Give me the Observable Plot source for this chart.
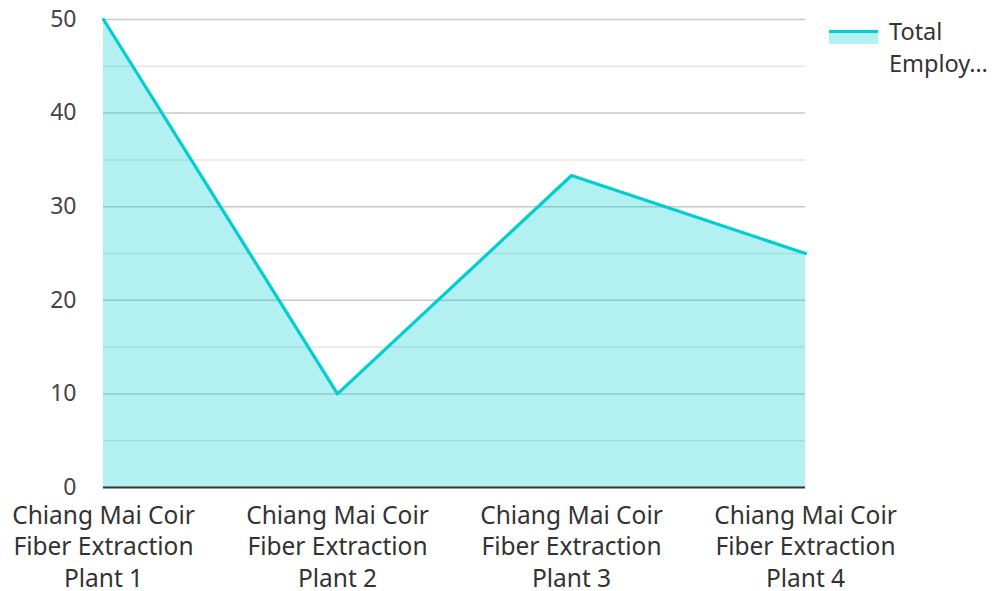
<!DOCTYPE html>
<html>
<head>
<meta charset="utf-8">
<script src="https://cdn.jsdelivr.net/npm/d3@7"></script>
<script src="https://cdn.jsdelivr.net/npm/@observablehq/plot@0.6"></script>
<style>
  html, body { margin: 0; padding: 0; background: #fff; }
  #wrap { position: relative; width: 994px; height: 591px; font-family: "Noto Sans", sans-serif; }
  #legend { position: absolute; left: 829px; top: 15px; display: flex; align-items: flex-start; }
  #legend .sw { width: 49px; height: 14px; margin-top: 15px; background: rgba(0,206,209,0.3); border-top: 3px solid #00CED1; box-sizing: border-box; }
  #legend .lab { margin-left: 11px; font-size: 23.5px; line-height: 32px; color: #333; }
</style>
</head>
<body>
<div id="wrap"></div>
<script>
const categories = [
  "Chiang Mai Coir Fiber Extraction Plant 1",
  "Chiang Mai Coir Fiber Extraction Plant 2",
  "Chiang Mai Coir Fiber Extraction Plant 3",
  "Chiang Mai Coir Fiber Extraction Plant 4"
];
const totalEmployees = [50, 10, 33.33, 25];
const tickLabelsX = [
  "Chiang Mai Coir\nFiber Extraction\nPlant 1",
  "Chiang Mai Coir\nFiber Extraction\nPlant 2",
  "Chiang Mai Coir\nFiber Extraction\nPlant 3",
  "Chiang Mai Coir\nFiber Extraction\nPlant 4"
];
const yMajor = [0, 10, 20, 30, 40, 50];
const yMinor = [5, 15, 25, 35, 45];
const seriesName = "Total Employees";

const data = categories.map((c, i) => ({cat: c, value: totalEmployees[i]}));
const labelMap = new Map(categories.map((c, i) => [c, tickLabelsX[i]]));

const chart = Plot.plot({
  width: 994,
  height: 591,
  marginLeft: 103,
  marginRight: 189,
  marginTop: 19,
  marginBottom: 104,
  style: {fontFamily: "Noto Sans, sans-serif", background: "#fff"},
  x: {type: "point", domain: categories, padding: 0, label: null},
  y: {domain: [0, 50], label: null},
  marks: [
    Plot.ruleY(yMinor, {stroke: "#e6e6e6", strokeWidth: 1.5}),
    Plot.ruleY(yMajor.filter(d => d > 0), {stroke: "#c8c8c8", strokeWidth: 1.5}),
    Plot.areaY(data, {x: "cat", y: "value", fill: "#00CED1", fillOpacity: 0.3}),
    Plot.lineY(data, {x: "cat", y: "value", stroke: "#00CED1", strokeWidth: 3.2}),
    Plot.ruleY([0], {stroke: "#333", strokeWidth: 2}),
    Plot.axisY({ticks: yMajor, tickSize: 0, tickPadding: 27, fontSize: 23, color: "#444", label: null}),
    Plot.axisX({tickSize: 0, tickPadding: 14, fontSize: 24.5, lineHeight: 1.285, color: "#333",
      tickFormat: d => labelMap.get(d), label: null})
  ]
});
chart.style.color = "#444";
document.getElementById("wrap").appendChild(chart);

const lg = document.createElement("div");
lg.id = "legend";
lg.innerHTML = '<div class="sw"></div><div class="lab">Total<br>Employ…</div>';
lg.title = seriesName;
document.getElementById("wrap").appendChild(lg);
</script>
</body>
</html>
